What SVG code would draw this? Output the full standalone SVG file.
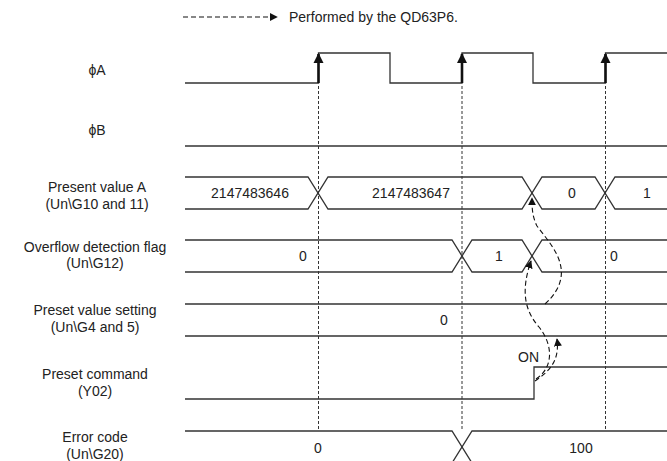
<svg xmlns="http://www.w3.org/2000/svg" width="667" height="461" viewBox="0 0 667 461">
<style>
text{font-family:"Liberation Sans",Arial,sans-serif;font-size:14px;fill:#222}
.lbl{text-anchor:middle}
.v{text-anchor:middle}
.w{fill:none;stroke:#333;stroke-width:1.3}
.dot{fill:none;stroke:#333;stroke-width:1;stroke-dasharray:3,2}
.dash{fill:none;stroke:#111;stroke-width:1.1;stroke-dasharray:5,3}
.edge{fill:none;stroke:#111;stroke-width:2.6}
</style>
<defs>
<marker id="ah" viewBox="0 0 10 10" refX="9" refY="5" markerWidth="8" markerHeight="8" markerUnits="userSpaceOnUse" orient="auto"><path d="M0,0L10,5L0,10z" fill="#111"/></marker>
<marker id="eh" viewBox="0 0 10 10" refX="9" refY="5" markerWidth="4" markerHeight="4" orient="auto"><path d="M0,0L10,5L0,10z" fill="#111"/></marker>
</defs>
<g id="legend">
<line class="dash" x1="183" y1="17" x2="277" y2="17" marker-end="url(#ah)"/>
<text x="289" y="22">Performed by the QD63P6.</text>
</g>
<g id="labels">
<text class="lbl" x="97" y="75">ϕA</text>
<text class="lbl" x="97" y="135">ϕB</text>
<text class="lbl" x="97" y="192">Present value A</text>
<text class="lbl" x="97" y="209">(Un\G10 and 11)</text>
<text class="lbl" x="95" y="252">Overflow detection flag</text>
<text class="lbl" x="95" y="268">(Un\G12)</text>
<text class="lbl" x="95" y="315">Preset value setting</text>
<text class="lbl" x="95" y="332">(Un\G4 and 5)</text>
<text class="lbl" x="95" y="379">Preset command</text>
<text class="lbl" x="95" y="396">(Y02)</text>
<text class="lbl" x="95" y="442">Error code</text>
<text class="lbl" x="95" y="459">(Un\G20)</text>
</g>
<g id="guides">
<line class="dot" x1="318.5" y1="86" x2="318.5" y2="431"/>
<line class="dot" x1="462" y1="86" x2="462" y2="431"/>
<line class="dot" x1="605.5" y1="86" x2="605.5" y2="431"/>
</g>
<g id="phaseA">
<path class="w" d="M185,83H318.5V53H390V83H462V53H533V83H605.5V53H667"/>
<line class="edge" x1="318.5" y1="83" x2="318.5" y2="54" marker-end="url(#eh)"/>
<line class="edge" x1="462" y1="83" x2="462" y2="54" marker-end="url(#eh)"/>
<line class="edge" x1="605.5" y1="83" x2="605.5" y2="54" marker-end="url(#eh)"/>
</g>
<g id="phaseB">
<path class="w" d="M185,146H667"/>
</g>
<g id="presentA">
<path class="w" d="M185,177H308L328,209H522L542,177H595L615,209H667"/>
<path class="w" d="M185,209H308L328,177H522L542,209H595L615,177H667"/>
<text class="v" x="250" y="198">2147483646</text>
<text class="v" x="411" y="198">2147483647</text>
<text class="v" x="572" y="198">0</text>
<text class="v" x="647" y="198">1</text>
</g>
<g id="overflow">
<path class="w" d="M185,240H452L472,272H522L542,240H667"/>
<path class="w" d="M185,272H452L472,240H522L542,272H667"/>
<text class="v" x="303" y="261">0</text>
<text class="v" x="499" y="261">1</text>
<text x="610" y="261">0</text>
</g>
<g id="presetValue">
<path class="w" d="M185,304H667M185,336H667"/>
<text class="v" x="444" y="325">0</text>
</g>
<g id="presetCmd">
<path class="w" d="M185,399H534V367H667"/>
<text x="518" y="362">ON</text>
</g>
<g id="errorCode">
<path class="w" d="M185,431H452L472,463"/>
<path class="w" d="M667,431H472L452,463"/>
<text class="v" x="318" y="453">0</text>
<text class="v" x="581" y="453">100</text>
</g>
<g id="connectors">
<path class="dash" d="M535,381C548,372 560,362 557,339" marker-end="url(#ah)"/>
<path class="dash" d="M545,304C580,272 550,244 537,226C532,216 532,207 532,198" marker-end="url(#ah)"/>
<path class="dash" d="M536,379C553,368 554,346 539,327C524,310 521,290 531,261" marker-end="url(#ah)"/>
</g>
</svg>
